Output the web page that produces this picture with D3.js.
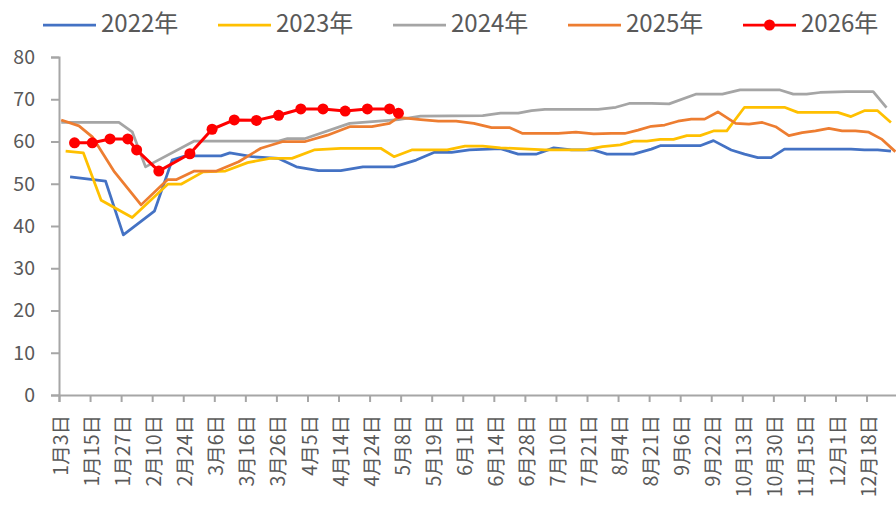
<!DOCTYPE html>
<html>
<head>
<meta charset="utf-8">
<script src="https://cdn.jsdelivr.net/npm/d3@7"></script>
<style>
  body { margin: 0; background: #fff; }
  text { font-family: "Noto Sans CJK SC", "Noto Sans", sans-serif; fill: #595959; }
</style>
</head>
<body>
<div id="chart"></div>
<script>
// x axis: category positions (dates), one label every 7 categories
const nCats = 189;
const tickLabels = ["1月3日", "1月15日", "1月27日", "2月10日", "2月24日", "3月6日", "3月16日",
  "3月26日", "4月5日", "4月14日", "4月24日", "5月8日", "5月19日", "6月1日", "6月14日",
  "6月28日", "7月10日", "7月21日", "8月4日", "8月21日", "9月6日", "9月22日", "10月13日",
  "10月30日", "11月15日", "12月1日", "12月18日"];
const yTicks = [0, 10, 20, 30, 40, 50, 60, 70, 80];

// series: category index + value
const idx2022 = [2, 10, 14, 21, 25, 28, 36, 38, 43, 49, 53, 58, 63, 68, 75, 80, 84, 88, 92, 99, 103, 107, 111, 115, 120, 123, 129, 133, 135, 144, 147, 151, 154, 157, 160, 163, 178, 181, 184, 187];
const val2022 = [51.6, 50.6, 37.9, 43.5, 55.6, 56.6, 56.6, 57.3, 56.4, 56.0, 54.0, 53.1, 53.1, 54.0, 54.0, 55.6, 57.4, 57.4, 58.0, 58.3, 57.0, 57.0, 58.5, 58.0, 58.0, 57.0, 57.0, 58.2, 59.0, 59.0, 60.2, 58.0, 57.0, 56.2, 56.2, 58.2, 58.2, 58.0, 58.0, 57.7];

const idx2023 = [1, 5, 9, 16, 24, 27, 32, 37, 42, 47, 52, 57, 63, 72, 75, 79, 87, 91, 95, 99, 109, 118, 122, 126, 129, 132, 135, 138, 141, 144, 147, 150, 154, 163, 166, 175, 178, 181, 184, 187];
const val2023 = [57.7, 57.3, 46.1, 42.0, 49.9, 49.9, 52.8, 53.0, 55.0, 56.0, 56.0, 58.0, 58.4, 58.4, 56.4, 58.0, 58.0, 58.9, 58.9, 58.5, 58.0, 58.0, 58.8, 59.2, 60.1, 60.1, 60.5, 60.5, 61.4, 61.4, 62.5, 62.5, 68.1, 68.1, 66.9, 66.9, 65.9, 67.3, 67.3, 64.5];

const idx2024 = [0, 13, 16, 19, 30, 49, 51, 55, 65, 76, 81, 95, 99, 103, 106, 109, 121, 125, 128, 133, 137, 143, 149, 153, 162, 165, 168, 171, 177, 183, 186];
const val2024 = [64.5, 64.5, 62.3, 54.0, 60.1, 60.1, 60.7, 60.7, 64.3, 65.2, 66.0, 66.1, 66.7, 66.7, 67.3, 67.6, 67.6, 68.1, 69.0, 69.0, 68.9, 71.2, 71.2, 72.2, 72.2, 71.2, 71.2, 71.6, 71.8, 71.8, 68.0];

const idx2025 = [0, 4, 7, 12, 18, 24, 26, 30, 35, 40, 45, 50, 55, 60, 65, 70, 74, 76, 81, 85, 89, 93, 97, 101, 104, 112, 116, 120, 124, 127, 130, 133, 136, 139, 142, 145, 148, 152, 155, 158, 161, 164, 167, 170, 173, 176, 179, 182, 185, 188];
const val2025 = [65.1, 63.7, 61.1, 52.8, 45.0, 51.0, 51.0, 53.0, 53.0, 55.2, 58.4, 60.0, 60.0, 61.5, 63.5, 63.5, 64.3, 65.7, 65.2, 64.8, 64.8, 64.3, 63.3, 63.3, 61.9, 61.9, 62.2, 61.8, 61.9, 61.9, 62.7, 63.6, 63.9, 64.8, 65.3, 65.3, 67.0, 64.3, 64.1, 64.5, 63.5, 61.4, 62.1, 62.5, 63.1, 62.5, 62.5, 62.2, 60.5, 57.6];

const idx2026 = [3, 7, 11, 15, 17, 22, 29, 34, 39, 44, 49, 54, 59, 64, 69, 74, 76];
const val2026 = [59.7, 59.7, 60.6, 60.6, 58.0, 53.0, 57.1, 62.9, 65.1, 65.0, 66.2, 67.7, 67.7, 67.2, 67.7, 67.7, 66.7];

const seriesNames = ["2022年", "2023年", "2024年", "2025年", "2026年"];
const seriesColors = ["#4472C4", "#FFC000", "#A5A5A5", "#ED7D31", "#FF0000"];
const seriesIdx = [idx2022, idx2023, idx2024, idx2025, idx2026];
const seriesVal = [val2022, val2023, val2024, val2025, val2026];

const width = 896, height = 507;
const plotLeft = 59, plotTop = 57, plotBottom = 395;
const catW = 4.437;

const svg = d3.select("#chart").append("svg")
  .attr("width", width).attr("height", height);

const x = d3.scaleLinear().domain([0, nCats]).range([plotLeft, plotLeft + nCats * catW]);
const y = d3.scaleLinear().domain([0, 80]).range([plotBottom, plotTop]);

// y axis
const yAxis = svg.append("g")
  .attr("transform", `translate(${plotLeft},0)`)
  .call(d3.axisLeft(y).tickValues(yTicks).tickSize(8).tickPadding(16));
yAxis.selectAll("text").style("font-size", "19.5px").attr("fill", "#595959");

// x axis (ticks at category boundaries, every 7)
const xAxis = svg.append("g")
  .attr("transform", `translate(0,${plotBottom})`)
  .call(d3.axisBottom(x).tickValues(d3.range(0, nCats, 7)).tickSize(7).tickFormat(""));

svg.selectAll(".domain, .tick line")
  .attr("stroke", "#A6A6A6").attr("stroke-width", 2);

svg.append("g").selectAll("text")
  .data(tickLabels)
  .enter()
  .append("text")
  .attr("transform", (d, i) => `translate(${x(i * 7 + 0.5)},${plotBottom + 20}) rotate(-90)`)
  .attr("text-anchor", "end")
  .attr("dy", "0.35em")
  .style("font-size", "19.5px")
  .text((d) => d);

// lines
const line = d3.line()
  .x((d) => x(d[0] + 0.5))
  .y((d) => y(d[1]));

seriesNames.forEach((name, s) => {
  const pts = seriesIdx[s].map((c, i) => [c, seriesVal[s][i]]);
  svg.append("path")
    .datum(pts)
    .attr("fill", "none")
    .attr("stroke", seriesColors[s])
    .attr("stroke-width", s === 4 ? 3 : 2.75)
    .attr("stroke-linejoin", "round")
    .attr("d", line);
  if (s === 4) {
    svg.selectAll(".dot")
      .data(pts)
      .enter()
      .append("circle")
      .attr("cx", (d) => x(d[0] + 0.5))
      .attr("cy", (d) => y(d[1]))
      .attr("r", 5.5)
      .style("fill", seriesColors[s]);
  }
});

// legend
const legendX = [43, 218, 393, 568, 743];
const legend = svg.append("g").attr("transform", "translate(0,25)");
seriesNames.forEach((name, s) => {
  const g = legend.append("g").attr("transform", `translate(${legendX[s]},0)`);
  g.append("line")
    .attr("x1", 0).attr("x2", 53)
    .attr("stroke", seriesColors[s]).attr("stroke-width", 2.75);
  if (s === 4) {
    g.append("circle").attr("cx", 26.5).attr("r", 5.5).style("fill", seriesColors[s]);
  }
  g.append("text")
    .attr("x", 58).attr("dy", "0.3em")
    .style("font-size", "24px")
    .text(name);
});
</script>
</body>
</html>
